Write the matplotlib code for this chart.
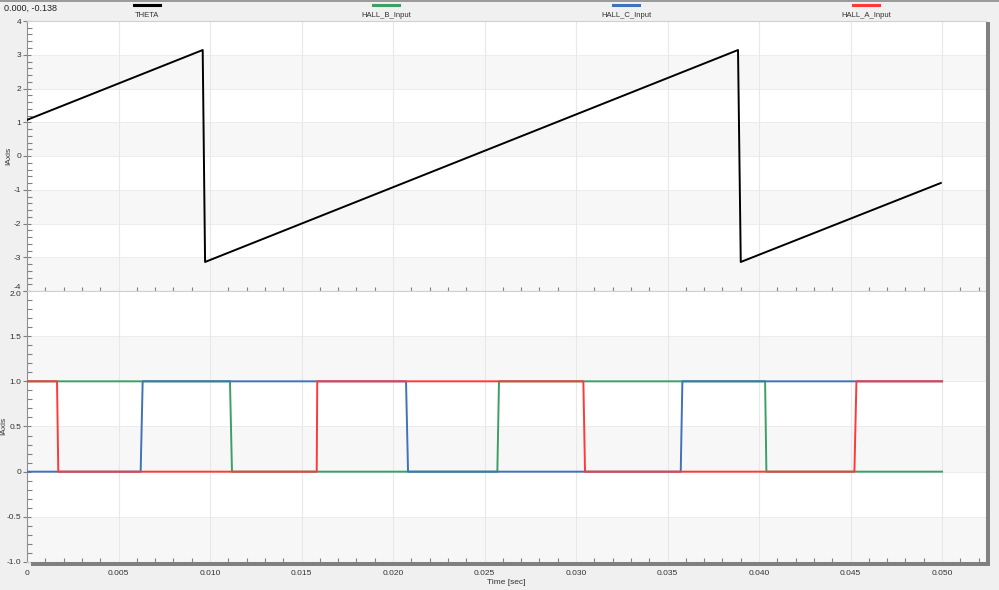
import numpy as np
import matplotlib
matplotlib.use("agg")
import matplotlib.pyplot as plt
from matplotlib.ticker import MultipleLocator, FixedLocator, FixedFormatter
from matplotlib.patches import Rectangle
from matplotlib.lines import Line2D

plt.rcParams['font.family'] = ['Liberation Sans', 'DejaVu Sans']

# ---------------- data ----------------
theta_t = [0.0, 0.00960, 0.00973, 0.03885, 0.03900, 0.04993]
theta_v = [1.07, 3.14, -3.14, 3.14, -3.14, -0.80]

hall_b_t = [0.0, 0.01109, 0.01120, 0.02570, 0.02579, 0.04033, 0.04040, 0.0500]
hall_b_v = [1, 1, 0, 0, 1, 1, 0, 0]

hall_c_t = [0.0, 0.00621, 0.00632, 0.02071, 0.02082, 0.03572, 0.03581, 0.0500]
hall_c_v = [0, 0, 1, 1, 0, 0, 1, 1]

hall_a_t = [0.0, 0.00164, 0.00171, 0.01583, 0.01586, 0.03040, 0.03049, 0.04521, 0.04532, 0.0500]
hall_a_v = [1, 1, 0, 0, 1, 1, 0, 0, 1, 1]

series_names = ["THETA", "HALL_B_Input", "HALL_C_Input", "HALL_A_Input"]
series_colors = ["#000000", "#3d9e66", "#3f72b8", "#ff3838"]

xticks = [0.0, 0.005, 0.010, 0.015, 0.020, 0.025, 0.030, 0.035, 0.040, 0.045, 0.050]
xtick_labels = ["0", "0.005", "0.010", "0.015", "0.020", "0.025", "0.030", "0.035", "0.040", "0.045", "0.050"]
top_yticks = [4, 3, 2, 1, 0, -1, -2, -3, -4]
top_ylabels = ["4", "3", "2", "1", "0", "-1", "-2", "-3", "-4"]
bot_yticks = [2.0, 1.5, 1.0, 0.5, 0.0, -0.5, -1.0]
bot_ylabels = ["2.0", "1.5", "1.0", "0.5", "0", "-0.5", "-1.0"]
top_bands = [(2, 3), (0, 1), (-2, -1), (-4, -3)]
bot_bands = [(1.0, 1.5), (0.0, 0.5), (-1.0, -0.5)]

readout = "0.000, -0.138"
ylabel = "IAxis"
xlabel = "Time [sec]"

# ---------------- layout ----------------
W, H = 999, 590
fig = plt.figure(figsize=(W / 100, H / 100), dpi=100, facecolor="#f0f0f0")

def fx(px): return px / W
def fy(py): return 1 - py / H

xl, xr = 27, 986
ax1 = fig.add_axes([fx(xl), fy(291), fx(xr) - fx(xl), fy(21) - fy(291)])
ax2 = fig.add_axes([fx(xl), fy(562), fx(xr) - fx(xl), fy(291) - fy(562)])

xlim = [0, 0.05240]
fs = 6

def style(ax, ylim, yticks, ylabels, minor, bands, show_x):
  ax.set_facecolor("white")
  ax.set_xlim(xlim)
  ax.set_ylim(ylim)
  for lo, hi in bands:
    ax.axhspan(lo, hi, color="#f7f7f7", zorder=0, lw=0)
  for y in yticks:
    ax.axhline(y, color="#ececec", lw=0.7, zorder=0.5)
  for x in xticks:
    ax.axvline(x, color="#e8e8e8", lw=0.8, zorder=0.5)
  ax.yaxis.set_major_locator(FixedLocator(yticks))
  ax.yaxis.set_major_formatter(FixedFormatter(ylabels))
  ax.yaxis.set_minor_locator(MultipleLocator(minor))
  ax.xaxis.set_major_locator(FixedLocator(xticks))
  ax.xaxis.set_major_formatter(FixedFormatter(xtick_labels))
  ax.xaxis.set_minor_locator(MultipleLocator(0.001))
  ax.tick_params(axis="y", which="major", direction="inout", length=6, width=0.8,
                 color="#808080", labelsize=fs, labelcolor="#333333", pad=1)
  ax.tick_params(axis="y", which="minor", direction="in", length=3.5, width=0.8, color="#808080")
  ax.tick_params(axis="x", which="major", length=0, labelsize=fs, labelcolor="#333333",
                 pad=6, labelbottom=show_x)
  ax.tick_params(axis="x", which="minor", direction="in", length=3, width=0.8, color="#808080")
  for s in ["top", "right", "bottom"]:
    ax.spines[s].set_color("#d0d0d0")
    ax.spines[s].set_linewidth(0.8)
  ax.spines["left"].set_color("#909090")
  ax.spines["left"].set_linewidth(0.8)

style(ax1, [-4, 4], top_yticks, top_ylabels, 0.2, top_bands, False)
style(ax2, [-1.0, 2.0], bot_yticks, bot_ylabels, 0.1, bot_bands, True)

# the "-4" and "2.0" labels sit on the shared edge: push them apart a little
fig.canvas.draw()
ax1.get_yticklabels()[-1].set_verticalalignment("bottom")
ax2.get_yticklabels()[0].set_verticalalignment("top")

ax1.plot(theta_t, theta_v, color=series_colors[0], lw=1.4, zorder=3)
ax2.plot(hall_b_t, hall_b_v, color=series_colors[1], lw=1.4, zorder=3)
ax2.plot(hall_c_t, hall_c_v, color=series_colors[2], lw=1.4, zorder=4)
ax2.plot(hall_a_t, hall_a_v, color=series_colors[3], lw=1.4, zorder=5)

# axis labels
fig.text(fx(9), fy(156), ylabel, rotation=90, ha="center", va="center", fontsize=fs, color="#333333")
fig.text(fx(4), fy(426), ylabel, rotation=90, ha="center", va="center", fontsize=fs, color="#333333")
fig.text(fx((xl + xr) / 2), fy(582), xlabel, ha="center", va="center", fontsize=fs, color="#333333")

# readout + legend strip
fig.text(fx(4), fy(8), readout, ha="left", va="center", fontsize=6.5, color="#222222")
leg_x = [147, 386, 626, 866]
for name, c, cx in zip(series_names, series_colors, leg_x):
  fig.add_artist(Line2D([fx(cx - 13), fx(cx + 13)], [fy(5), fy(5)], color=c, lw=2.2))
  fig.text(fx(cx), fy(15.5), name, ha="center", va="center", fontsize=5.5, color="#333333")

# frame shadows and top rule
fig.add_artist(Rectangle((fx(986), fy(566)), fx(4), fy(22) - fy(566), transform=fig.transFigure,
                         color="#808080", lw=0))
fig.add_artist(Rectangle((fx(31), fy(566)), fx(959), fy(562) - fy(566), transform=fig.transFigure,
                         color="#808080", lw=0))
fig.add_artist(Line2D([0, 1], [fy(0.6), fy(0.6)], color="#8a8a8a", lw=1.2))

fig.savefig("out.png", dpi=100, facecolor=fig.get_facecolor())
